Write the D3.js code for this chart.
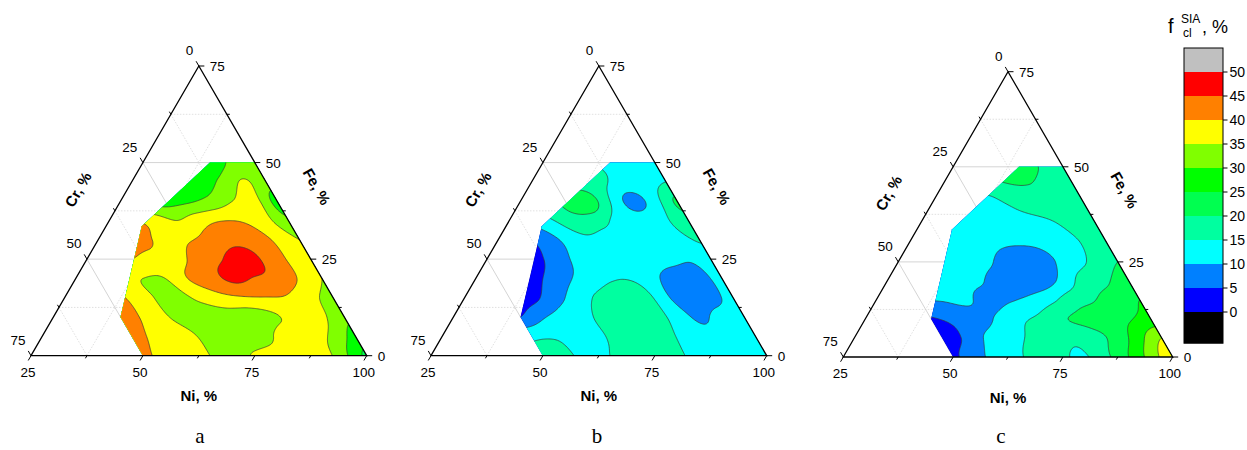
<!DOCTYPE html>
<html><head><meta charset="utf-8">
<script src="https://cdn.jsdelivr.net/npm/d3@7"></script>
<style>body{margin:0;background:#fff;} svg{display:block;font-family:"Liberation Sans",Arial,sans-serif;}</style>
</head><body><svg id="chart" width="1247" height="450"></svg>
<script>
// ---- data: estimated f_cl^SIA (%) on a composition grid (Cr %, Fe %), Ni = 100 - Cr - Fe
const gridCr = [0,5,10,15,20,25,30,35,40,45,50,55];
const gridFe = [0,5,10,15,20,25,30,35,40,45,50];
// rows: Fe = 0 ... 50 ; columns: Cr = 0 ... 55
const valuesA = [
 [24, 31.2, 37.5, 38, 37, 35.5, 33, 35, 37, 38.5, 41, 42],
 [28, 34, 37, 38, 33.5, 32, 31.5, 34.8, 37, 39, 42, 43],
 [31, 36, 38, 34.5, 32, 32.5, 32.5, 33.5, 35.5, 39.5, 42, 43],
 [33, 36.5, 39.5, 39.8, 39.5, 38.5, 36, 33.5, 35, 39, 42, 42],
 [35, 39.5, 43.5, 44.7, 46, 43, 40, 35, 35, 37, 37, 37],
 [35, 39.5, 44, 47, 44.8, 42, 38.5, 38, 40, 40, 40, 40],
 [35, 39, 42.5, 43.5, 41.5, 39.5, 38, 41.5, 42, 42, 42, 42],
 [31, 36.5, 39.5, 39.8, 38, 35, 38, 40, 40, 40, 40, 40],
 [28, 36.5, 35, 31.5, 29.3, 28.3, 28, 28, 28, 28, 28, 28],
 [32, 35.5, 31, 27, 26, 26, 26, 26, 26, 26, 26, 26],
 [34.5, 31.3, 27, 26, 26, 26, 26, 26, 26, 26, 26, 26]
];
const valuesB = [
 [12, 12, 12, 13, 16, 17, 17, 15, 13.5, 16, 16, 16],
 [12, 12, 11.5, 13, 16.5, 18, 17.5, 14, 13, 14.5, 14, 12],
 [12, 12, 9, 13, 17, 18, 18, 14, 12, 9.5, 5, 3],
 [12, 8, 6.5, 11, 17.5, 18, 16, 12, 8, 3.5, 2, 2],
 [12, 8, 7, 11, 14.5, 14.5, 12, 9, 5, 1.5, 1.5, 1.5],
 [13, 10.5, 12, 13, 13, 13, 11, 7, 3, 2, 2, 2],
 [15.5, 13.5, 13, 13, 13, 14, 11, 7, 4, 4, 4, 4],
 [18, 14.5, 12.5, 13, 17, 18.5, 15, 12, 12, 12, 12, 12],
 [21, 13, 8, 15, 23, 21, 18, 18, 18, 18, 18, 18],
 [15, 13, 13.5, 16, 17, 17, 17, 17, 17, 17, 17, 17],
 [13, 13, 14.5, 15, 15, 15, 15, 15, 15, 15, 15, 15]
];
const valuesC = [
 [39, 32, 25, 19, 14.5, 15.5, 16.5, 14.5, 12, 8, 4, 2],
 [35, 28.5, 22, 18.5, 16, 16.5, 15.5, 13, 10.5, 5.5, 2.5, 1],
 [27, 24.5, 22, 21, 19.5, 16, 14, 10.5, 8, 6, 4.5, 3],
 [25, 22, 20, 18, 14, 11, 9.5, 8.5, 11, 10.3, 10, 10],
 [23, 19.5, 17.5, 11.5, 7.5, 7, 8.5, 11, 12, 12, 12, 12],
 [20, 16.5, 13, 9.5, 7, 8, 11, 13, 13, 13, 13, 13],
 [18, 15.5, 13, 11, 10.5, 11, 13, 14, 14, 14, 14, 14],
 [18, 16.5, 14.5, 13.5, 13, 13, 13.5, 13, 13, 13, 13, 13],
 [18, 17.5, 17, 16, 14, 13, 13, 13, 13, 13, 13, 13],
 [18, 18, 19.8, 19.5, 17, 17, 17, 17, 17, 17, 17, 17],
 [18, 19.7, 22.5, 23, 23, 23, 23, 23, 23, 23, 23, 23]
];
// measured composition domain (convex hull of samples), Cr % and Fe %
const hullCr = [0, 50, 50, 33.5, 10, 0];
const hullFe = [0, 0, 10, 33.5, 50, 50];
// colour levels
const levels = [0,5,10,15,20,25,30,35,40,45,50];
const levelColors = ["#0000FF","#0080FF","#00FFFF","#00FFA0","#00FF50","#00FF00","#80FF00","#FFFF00","#FF8000","#FF0000","#C0C0C0"];
const belowColor = "#000000";
const legendLabels = ["50","45","40","35","30","25","20","15","10","5","0"];
const niTicks = [25,50,75,100];
const crTicks = [0,25,50,75];
const feTicks = [0,25,50,75];
const minorTicks = [12.5,37.5,62.5];

// ---- layout
const plots = [
  {values: valuesA, BL:[31,355.7], BR:[366.7,355.7], topY:66,   label:"a", labelX:200},
  {values: valuesB, BL:[431,355.7], BR:[766.7,355.7], topY:66,  label:"b", labelX:597},
  {values: valuesC, BL:[843.3,357], BR:[1172.7,357], topY:71.7, label:"c", labelX:1001}
];

const svg = d3.select("#chart");

const idxCr = d3.scaleLinear().domain([gridCr[0], gridCr[gridCr.length-1]]).range([0, gridCr.length-1]);
const idxFe = d3.scaleLinear().domain([gridFe[0], gridFe[gridFe.length-1]]).range([0, gridFe.length-1]);

function catmull(p0,p1,p2,p3,t){
  return p1 + 0.5*t*(p2-p0 + t*(2*p0-5*p1+4*p2-p3 + t*(3*(p1-p2)+p3-p0)));
}
function sample(vals, crv, fev){
  const nxg = gridCr.length, nyg = gridFe.length;
  const gx = idxCr(crv), gy = idxFe(fev);
  const ix = Math.floor(gx), iy = Math.floor(gy);
  const tx = gx-ix, ty = gy-iy;
  const g = (i,j) => vals[Math.max(0,Math.min(nyg-1,j))][Math.max(0,Math.min(nxg-1,i))];
  const r = [];
  for (let m=-1;m<=2;m++) r.push(catmull(g(ix-1,iy+m), g(ix,iy+m), g(ix+1,iy+m), g(ix+2,iy+m), tx));
  return catmull(r[0],r[1],r[2],r[3],ty);
}

// raster in composition space
const step = 0.25, cr0 = -5, fe0 = -5, nx = 261, ny = 241;
const rCr = d3.scaleLinear().domain([0.5, nx-0.5]).range([cr0, cr0+(nx-1)*step]);
const rFe = d3.scaleLinear().domain([0.5, ny-0.5]).range([fe0, fe0+(ny-1)*step]);

plots.forEach((p, pi) => {
  const xs = d3.scaleLinear().domain([0,75]).range([p.BR[0], p.BL[0]]);
  const ys = d3.scaleLinear().domain([0,75]).range([p.BL[1], p.topY]);
  const proj = (c, f) => [xs(c + f/2), ys(f)];
  const g = svg.append("g");

  // grid lines
  const gridG = g.append("g").attr("fill","none");
  [12.5,25,37.5,50,62.5].forEach(v => {
    const major = (v===25 || v===50);
    const segs = [
      [proj(75-v, v), proj(0, v)],       // Fe = const
      [proj(v, 75-v), proj(v, 0)],       // Cr = const
      [proj(v, 0), proj(0, v)]           // Ni = const
    ];
    segs.forEach(s => {
      gridG.append("line").attr("x1",s[0][0]).attr("y1",s[0][1]).attr("x2",s[1][0]).attr("y2",s[1][1])
        .attr("stroke", major ? "#c9c9c9" : "#d2d2d2").attr("stroke-width", major?0.8:0.7)
        .attr("stroke-dasharray", major ? null : "1.5,1.5");
    });
  });

  // raster + contours
  const raster = new Float64Array(nx*ny);
  for (let j=0;j<ny;j++) for (let i=0;i<nx;i++)
    raster[j*nx+i] = sample(p.values, cr0+i*step, fe0+j*step);
  const contours = d3.contours().size([nx,ny]).thresholds(levels)(raster);
  const tr = d3.geoTransform({point(x,y){ const q = proj(rCr(x), rFe(y)); this.stream.point(q[0], q[1]); }});
  const path = d3.geoPath(tr);

  const clipId = "clip"+pi;
  const hullPts = hullCr.map((c,k) => proj(c, hullFe[k]));
  svg.append("clipPath").attr("id", clipId).append("polygon").attr("points", hullPts.map(q=>q.join(",")).join(" "));
  const cg = g.append("g").attr("clip-path", `url(#${clipId})`);
  cg.append("polygon").attr("points", hullPts.map(q=>q.join(",")).join(" ")).attr("fill", belowColor);
  cg.selectAll("path.band").data(contours).join("path").attr("class","band")
    .attr("d", path).attr("fill", d => levelColors[levels.indexOf(d.value)]).attr("fill-rule","evenodd").attr("stroke","none");
  cg.selectAll("path.line").data(contours.filter(d => d.value>0)).join("path").attr("class","line")
    .attr("d", path).attr("fill","none").attr("stroke","#3a3a3a").attr("stroke-width",0.7);

  // triangle
  const tri = [proj(75,0), proj(0,0), proj(0,75)];
  g.append("polygon").attr("points", tri.map(q=>q.join(",")).join(" ")).attr("fill","none").attr("stroke","#000").attr("stroke-width",1.3);

  // ticks
  const tg = g.append("g").attr("stroke","#000").attr("stroke-width",1);
  const tick = (pt, dir, len) => tg.append("line").attr("x1",pt[0]).attr("y1",pt[1]).attr("x2",pt[0]+dir[0]*len).attr("y2",pt[1]+dir[1]*len);
  const allV = [0,12.5,25,37.5,50,62.5,75];
  allV.forEach(v => {
    const len = minorTicks.includes(v) ? 3 : 5.5;
    tick(proj(0, v), [1,0], len);                       // Fe
    tick(proj(v, 75-v), [-0.5,-0.866], len);            // Cr
    tick(proj(75-v, 0), [-0.5,0.866], len);             // Ni (Ni = 25+v)
  });

  // tick labels
  const lg = g.append("g").attr("font-size", 13.5).attr("fill","#000");
  feTicks.forEach(v => { const q = proj(0, v);
    lg.append("text").attr("x", q[0]+11).attr("y", q[1]+5).attr("text-anchor","start").text(v); });
  crTicks.forEach(v => { const q = proj(v, 75-v);
    lg.append("text").attr("x", q[0]-5.5).attr("y", q[1]-11).attr("text-anchor","end").text(v); });
  niTicks.forEach(v => { const q = proj(100-v, 0);
    lg.append("text").attr("x", q[0]-3).attr("y", q[1]+21).attr("text-anchor","middle").text(v); });

  // axis titles
  const top = proj(0,75), bl = proj(75,0), br = proj(0,0);
  const midL = [(top[0]+bl[0])/2, (top[1]+bl[1])/2];
  const midR = [(top[0]+br[0])/2, (top[1]+br[1])/2];
  const crPos = [midL[0]-0.866*42.5, midL[1]-0.5*42.5];
  const fePos = [midR[0]+0.866*41.5-0.5*4, midR[1]-0.5*41.5-0.866*4];
  const at = g.append("g").attr("font-size",15).attr("font-weight","bold").attr("text-anchor","middle");
  at.append("text").attr("transform",`translate(${crPos[0]},${crPos[1]}) rotate(-60)`).attr("dy","0.35em").text("Cr, %");
  at.append("text").attr("transform",`translate(${fePos[0]},${fePos[1]}) rotate(60)`).attr("dy","0.35em").text("Fe, %");
  at.append("text").attr("x", top[0]).attr("y", bl[1]+45.5).text("Ni, %");

  // panel letter
  g.append("text").attr("x", p.labelX).attr("y", 443).attr("text-anchor","middle")
    .attr("font-family","'Liberation Serif','Times New Roman',serif").attr("font-size",21).text(p.label);
});

// ---- legend
const ly = d3.scaleLinear().domain([0,50]).range([312,72]);
const lx0 = 1184, lx1 = 1223;
const leg = svg.append("g");
leg.append("rect").attr("x",lx0).attr("y",ly(0)).attr("width",lx1-lx0).attr("height",ly(-6.5)-ly(0)).attr("fill",belowColor);
leg.selectAll("rect.band").data(levels).join("rect").attr("class","band")
  .attr("x",lx0).attr("width",lx1-lx0)
  .attr("y", d => ly(d+5)).attr("height", d => ly(d)-ly(d+5))
  .attr("fill", (d,i) => levelColors[i]);
leg.append("rect").attr("x",lx0).attr("y",ly(55)).attr("width",lx1-lx0).attr("height",ly(-6.5)-ly(55))
  .attr("fill","none").attr("stroke","#000").attr("stroke-width",1);
legendLabels.forEach(t => {
  const y = ly(+t);
  leg.append("line").attr("x1",lx1).attr("x2",lx1+4.5).attr("y1",y).attr("y2",y).attr("stroke","#000");
  leg.append("text").attr("x",1229.5).attr("y",y+5).attr("font-size",14).text(t);
});
const title = svg.append("g").attr("fill","#000");
title.append("text").attr("x",1168).attr("y",33).attr("font-size",20).text("f");
title.append("text").attr("x",1181).attr("y",22.5).attr("font-size",12).text("SIA");
title.append("text").attr("x",1183).attr("y",37).attr("font-size",12).text("cl");
title.append("text").attr("x",1202).attr("y",33).attr("font-size",18).text(", %");
</script>
</body></html>
